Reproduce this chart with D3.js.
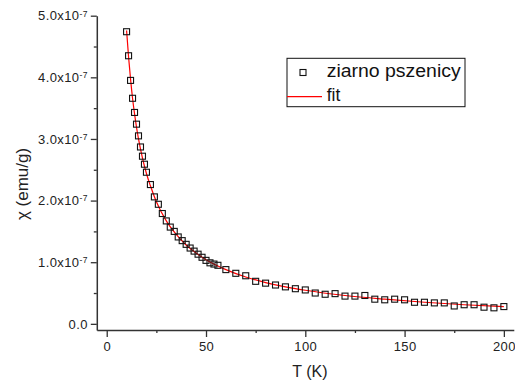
<!DOCTYPE html>
<html>
<head>
<meta charset="utf-8">
<script src="https://cdn.jsdelivr.net/npm/d3@7"></script>
<style>
  body { margin: 0; background: #fff; }
  svg { display: block; font-family: "Liberation Sans", Arial, sans-serif; }
</style>
</head>
<body>
<svg id="chart" width="515" height="380"></svg>
<script>
// measured points (chi in emu/g)
const tempK = [10, 11, 12, 13, 14, 15, 16, 17, 18, 19,
  20, 22, 24, 26, 28, 30, 32, 34, 36, 38, 40, 42, 44, 46, 48, 50, 52, 54, 56,
  60, 65, 70, 75, 80, 85, 90, 95, 100, 105, 110, 115, 120, 125, 130, 135, 140,
  145, 150, 155, 160, 165, 170, 175, 180, 185, 190, 195, 200];
const chiE7 = [4.74, 4.35, 3.95, 3.66, 3.43, 3.24, 3.05, 2.87, 2.72, 2.59,
  2.46, 2.26, 2.06, 1.94, 1.79, 1.67, 1.57, 1.50, 1.41, 1.35, 1.29, 1.23, 1.18, 1.13, 1.08, 1.03, 0.99, 0.97, 0.95,
  0.88, 0.82, 0.78, 0.69, 0.66, 0.63, 0.60, 0.57, 0.55, 0.50, 0.48, 0.49, 0.45, 0.45, 0.46, 0.40, 0.39,
  0.40, 0.39, 0.35, 0.35, 0.34, 0.34, 0.29, 0.31, 0.31, 0.27, 0.26, 0.28];

// fit curve
const fitT = [10, 11, 12, 13, 14, 15, 16, 18, 20, 22, 25, 30, 35, 40, 45, 50, 60, 70, 80, 90, 100, 120, 140, 160, 180, 200];
const fitChiE7 = [4.76, 4.33, 3.97, 3.66, 3.41, 3.19, 3.00, 2.69, 2.44, 2.24, 1.98, 1.67, 1.45, 1.28, 1.15, 1.04,
  0.88, 0.76, 0.67, 0.60, 0.545, 0.46, 0.40, 0.35, 0.31, 0.28];

const xTicks = [0, 50, 100, 150, 200];
const xMinorTicks = [25, 75, 125, 175];
const yTicksE7 = [0, 1, 2, 3, 4, 5];
const yMinorTicksE7 = [0.5, 1.5, 2.5, 3.5, 4.5];

const seriesName = 'ziarno pszenicy';
const fitName = 'fit';

const points = tempK.map((t, i) => ({ t, chi: chiE7[i] * 1e-7 }));
const fitLine = fitT.map((t, i) => ({ t, chi: fitChiE7[i] * 1e-7 }));

const svg = d3.select('#chart');
const axisColor = '#333';

const x = d3.scaleLinear().domain([-5, 205]).range([96.8, 513.8]);
const y = d3.scaleLinear().domain([-0.1e-7, 5.0e-7]).range([330, 15.7]);

// fit line
svg.append('path')
  .datum(fitLine)
  .attr('fill', 'none')
  .attr('stroke', '#ff0000')
  .attr('stroke-width', 1.2)
  .attr('d', d3.line().x(d => x(d.t)).y(d => y(d.chi)).curve(d3.curveMonotoneX));

// data squares
svg.append('g')
  .selectAll('rect')
  .data(points)
  .enter()
  .append('rect')
  .attr('x', d => x(d.t) - 3)
  .attr('y', d => y(d.chi) - 3)
  .attr('width', 6)
  .attr('height', 6)
  .attr('fill', 'none')
  .attr('stroke', '#111')
  .attr('stroke-width', 1.1);

// y axis
const yAxis = svg.append('g').attr('transform', 'translate(96.8,0)');
yAxis.call(d3.axisLeft(y).tickValues(yTicksE7.map(v => v * 1e-7)).tickSize(6).tickSizeOuter(0).tickPadding(3).tickFormat(''));

yAxis.selectAll('.tick text').each(function (d) {
  const t = d3.select(this);
  const v = Math.round(d * 1e8) / 10;
  if (v === 0) {
    t.text('0.0');
  } else {
    t.append('tspan').text(v.toFixed(1) + 'x10');
    t.append('tspan').attr('dy', '-0.45em').attr('font-size', '8.5px').text('-7');
  }
});

yAxis.append('g').call(d3.axisLeft(y).tickValues(yMinorTicksE7.map(v => v * 1e-7)).tickSize(3).tickFormat(''))
  .select('.domain').remove();

// x axis
const xAxis = svg.append('g').attr('transform', 'translate(0,330)');
xAxis.call(d3.axisBottom(x).tickValues(xTicks).tickSize(7).tickSizeOuter(0).tickPadding(5));
xAxis.append('g').call(d3.axisBottom(x).tickValues(xMinorTicks).tickSize(3).tickFormat(''))
  .select('.domain').remove();

svg.selectAll('.domain').attr('stroke', axisColor).attr('stroke-width', 1.5);
svg.selectAll('.tick line').attr('stroke', axisColor).attr('stroke-width', 1.3);
svg.selectAll('.tick text')
  .attr('fill', '#222')
  .attr('font-size', '13px')
  .attr('letter-spacing', '0.4px')
  .attr('font-family', '"Liberation Sans", Arial, sans-serif');

// axis titles
svg.append('text')
  .attr('x', 310)
  .attr('y', 377)
  .attr('text-anchor', 'middle')
  .attr('font-size', '16px')
  .attr('fill', '#222')
  .text('T (K)');

svg.append('text')
  .attr('transform', 'translate(28,184) rotate(-90)')
  .attr('text-anchor', 'middle')
  .attr('font-size', '17px')
  .attr('fill', '#222')
  .text('\u03c7 (emu/g)');

// legend
const legend = svg.append('g');
legend.append('rect')
  .attr('x', 287).attr('y', 58.3)
  .attr('width', 178).attr('height', 48.4)
  .attr('fill', '#fff')
  .attr('stroke', '#111')
  .attr('stroke-width', 1);
legend.append('rect')
  .attr('x', 300).attr('y', 69.5)
  .attr('width', 6).attr('height', 6)
  .attr('fill', 'none')
  .attr('stroke', '#111')
  .attr('stroke-width', 1.1);
legend.append('text')
  .attr('x', 326.7).attr('y', 77)
  .attr('font-size', '17.5px')
  .attr('textLength', 134)
  .attr('lengthAdjust', 'spacingAndGlyphs')
  .attr('fill', '#111')
  .text(seriesName);
legend.append('line')
  .attr('x1', 287).attr('x2', 322)
  .attr('y1', 96.7).attr('y2', 96.7)
  .attr('stroke', '#ff0000')
  .attr('stroke-width', 1.2);
legend.append('text')
  .attr('x', 326.7).attr('y', 100.5)
  .attr('font-size', '17.5px')
  .attr('fill', '#111')
  .text(fitName);
</script>
</body>
</html>
